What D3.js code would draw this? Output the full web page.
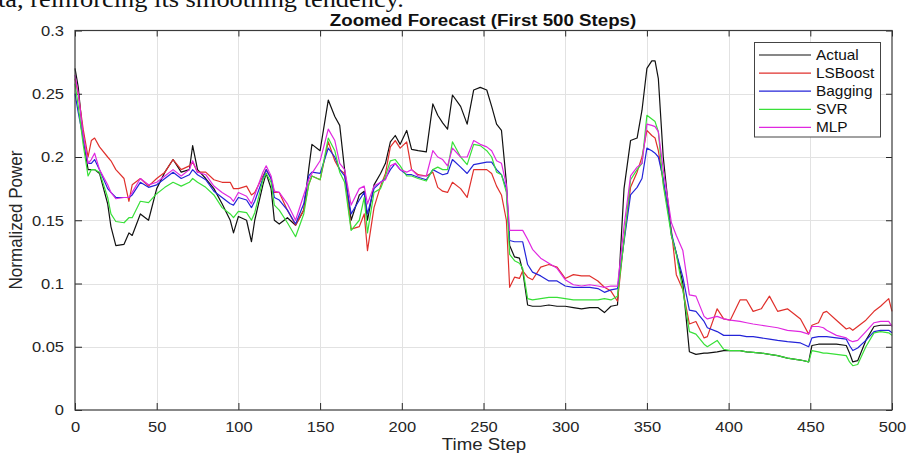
<!DOCTYPE html>
<html><head><meta charset="utf-8">
<script src="https://cdn.jsdelivr.net/npm/d3@7"></script>
<style>body{margin:0;background:#fff;} svg{display:block;}</style>
</head><body>
<svg id="c" width="910" height="454"></svg>
<script>
// ---- data ----
const timeSteps = [0,2,5,8,10,12,15,20,22,25,30,33,35,40,45,50,55,60,65,70,72,75,80,85,90,95,97,100,105,108,110,115,117,120,122,125,130,135,140,143,145,150,155,159,162,165,169,174,177,179,183,187,190,193,196,199,203,206,210,215,219,222,225,228,231,236,240,244,248,252,255,258,261,264,266,269,272,274,277,280,285,290,295,300,305,310,315,320,324,328,332,336,340,344,347,350,353,355,357,360,365,368,372,376,380,385,387,393,397,401,407,411,415,420,425,430,436,444,449,451,455,458,460,466,472,474,476,479,484,489,493,498,500];
const actual  = [.270,.255,.215,.190,.190,.190,.187,.163,.145,.130,.131,.140,.138,.155,.150,.175,.188,.198,.188,.190,.209,.190,.183,.175,.163,.150,.140,.153,.150,.133,.150,.178,.187,.175,.150,.147,.152,.146,.158,.190,.210,.205,.245,.232,.225,.190,.150,.170,.173,.150,.178,.187,.195,.212,.217,.210,.221,.206,.205,.204,.242,.233,.227,.222,.249,.240,.226,.253,.255,.253,.240,.226,.221,.180,.130,.121,.120,.110,.083,.082,.082,.083,.082,.082,.081,.080,.081,.081,.077,.082,.083,.175,.213,.215,.237,.270,.276,.276,.262,.200,.138,.124,.100,.046,.044,.045,.045,.046,.047,.047,.047,.046,.0455,.045,.044,.043,.041,.0395,.038,.051,.052,.052,.052,.052,.051,.045,.038,.039,.055,.066,.067,.067,.067];
const lsboost = [.262,.250,.222,.200,.213,.215,.208,.200,.197,.190,.183,.165,.178,.183,.177,.183,.188,.198,.190,.193,.196,.188,.188,.182,.180,.180,.175,.175,.177,.170,.172,.185,.190,.183,.172,.172,.158,.146,.158,.178,.185,.182,.212,.197,.190,.187,.143,.145,.155,.126,.160,.177,.187,.208,.213,.207,.212,.190,.186,.185,.188,.176,.173,.172,.180,.175,.168,.190,.190,.190,.187,.177,.170,.150,.097,.105,.104,.110,.105,.103,.113,.115,.113,.104,.107,.106,.106,.102,.097,.094,.086,.135,.176,.188,.200,.221,.217,.215,.205,.180,.142,.107,.095,.068,.070,.057,.058,.080,.072,.071,.087,.087,.078,.080,.090,.078,.080,.072,.060,.067,.069,.077,.078,.071,.064,.065,.063,.066,.071,.078,.082,.088,.078];
const bagging = [.250,.235,.215,.195,.195,.198,.190,.175,.172,.168,.168,.168,.170,.180,.176,.178,.183,.188,.183,.186,.190,.186,.182,.173,.168,.163,.162,.168,.166,.160,.165,.183,.190,.183,.168,.166,.158,.147,.163,.185,.188,.187,.207,.200,.190,.185,.155,.166,.172,.155,.175,.180,.183,.190,.195,.190,.186,.186,.184,.182,.190,.188,.186,.187,.198,.192,.187,.194,.195,.196,.196,.190,.186,.175,.134,.133,.133,.133,.115,.109,.106,.102,.102,.098,.097,.097,.097,.096,.093,.095,.096,.133,.170,.176,.183,.207,.205,.203,.200,.183,.140,.124,.105,.079,.078,.070,.065,.062,.059,.059,.059,.058,.058,.057,.056,.055,.054,.053,.050,.057,.058,.058,.058,.057,.056,.051,.047,.049,.055,.062,.063,.063,.061];
const svr     = [.258,.240,.210,.185,.190,.190,.188,.168,.155,.149,.148,.152,.152,.165,.164,.171,.176,.180,.177,.180,.183,.180,.176,.170,.160,.155,.152,.157,.156,.150,.156,.182,.187,.180,.162,.158,.148,.137,.155,.178,.185,.182,.215,.205,.188,.180,.142,.150,.168,.140,.172,.175,.185,.197,.198,.193,.185,.185,.183,.181,.190,.192,.190,.190,.212,.200,.194,.210,.209,.205,.200,.188,.186,.172,.123,.118,.116,.112,.088,.087,.088,.089,.089,.088,.087,.087,.087,.087,.088,.087,.090,.134,.182,.190,.195,.233,.230,.228,.220,.178,.138,.123,.095,.062,.060,.052,.050,.055,.048,.047,.047,.046,.0455,.045,.044,.043,.041,.0395,.038,.047,.046,.045,.045,.044,.043,.038,.035,.036,.050,.061,.062,.061,.059];
const mlp     = [.265,.250,.218,.195,.198,.203,.190,.178,.172,.167,.168,.168,.172,.183,.178,.180,.185,.190,.185,.190,.197,.188,.186,.177,.172,.168,.165,.172,.169,.163,.170,.188,.193,.185,.173,.172,.163,.150,.170,.182,.187,.197,.222,.213,.195,.190,.162,.175,.177,.163,.177,.180,.182,.193,.195,.190,.188,.190,.185,.185,.205,.200,.198,.193,.207,.200,.200,.213,.210,.208,.205,.197,.195,.178,.142,.142,.142,.142,.135,.127,.120,.116,.112,.103,.099,.098,.099,.098,.097,.098,.098,.145,.185,.192,.195,.226,.225,.224,.220,.190,.148,.138,.126,.091,.090,.074,.072,.074,.072,.071,.070,.069,.068,.067,.066,.065,.063,.062,.060,.066,.066,.065,.063,.059,.057,.055,.054,.055,.062,.069,.070,.070,.066];

const seriesNames  = ["Actual","LSBoost","Bagging","SVR","MLP"];
const seriesValues = [actual, lsboost, bagging, svr, mlp];
const seriesColors = ["#111111","#e0302c","#2424d8","#38e038","#e028e0"];
const xTicks = [0,50,100,150,200,250,300,350,400,450,500];
const yTicks = [0,0.05,0.1,0.15,0.2,0.25,0.3];
const yTickLabels = ["0","0.05","0.1","0.15","0.2","0.25","0.3"];
const titleText = "Zoomed Forecast (First 500 Steps)";
const xLabelText = "Time Step";
const yLabelText = "Normalized Power";
const topCaption = "ta, reinforcing its smoothing tendency.";

// ---- drawing ----
const SX = 1.1; // horizontal stretch of the source image
const svg = d3.select("#c");
const FONT = "'Liberation Sans', Arial, Helvetica, sans-serif";
const INK = "#262626";

const x = d3.scaleLinear().domain([0,500]).range([75, 892]);
const y = d3.scaleLinear().domain([0,0.3]).range([410, 30.5]);

function stext(px, py, txt, size, opts={}) {
  return svg.append("text")
    .attr("transform", `translate(${px},${py}) scale(${SX},1)`)
    .attr("font-family", opts.family || FONT)
    .attr("font-size", size)
    .attr("font-weight", opts.weight || "normal")
    .attr("text-anchor", opts.anchor || "start")
    .attr("fill", opts.fill || INK)
    .text(txt);
}

// caption fragment clipped at the top (as in the source image)
stext(-2, 7, topCaption, 24, {family:"'Liberation Serif','Times New Roman',serif", fill:"#111"});

// grid
const grid = svg.append("g").attr("stroke", "#e2e2e2").attr("stroke-width", 1);
xTicks.filter(t => t>0 && t<500).forEach(t => {
  grid.append("line").attr("x1", Math.round(x(t))+0.5).attr("x2", Math.round(x(t))+0.5)
    .attr("y1", y(0.3)).attr("y2", y(0));
});
yTicks.filter(t => t>0 && t<0.3).forEach(t => {
  grid.append("line").attr("y1", Math.round(y(t))+0.5).attr("y2", Math.round(y(t))+0.5)
    .attr("x1", x(0)).attr("x2", x(500));
});

// axes (inward ticks, box on)
const axB = svg.append("g").attr("transform", `translate(0,${y(0)})`)
  .call(d3.axisBottom(x).tickValues(xTicks).tickSizeInner(-7).tickSizeOuter(0).tickPadding(11));
const axL = svg.append("g").attr("transform", `translate(${x(0)},0)`)
  .call(d3.axisLeft(y).tickValues(yTicks).tickFormat((d,i)=>yTickLabels[i]).tickSizeInner(-7).tickSizeOuter(0).tickPadding(10));
const axT = svg.append("g").attr("transform", `translate(0,${y(0.3)})`)
  .call(d3.axisTop(x).tickValues(xTicks).tickFormat("").tickSizeInner(-6).tickSizeOuter(0));
const axR = svg.append("g").attr("transform", `translate(${x(500)},0)`)
  .call(d3.axisRight(y).tickValues(yTicks).tickFormat("").tickSizeInner(-6).tickSizeOuter(0));
[axB, axL, axT, axR].forEach(a => {
  a.select(".domain").remove();
  a.selectAll(".tick line").attr("stroke", INK).attr("stroke-width", 1);
  a.selectAll(".tick text").attr("font-family", FONT).attr("font-size", 15).attr("fill", INK);
});
axB.selectAll(".tick text").attr("transform", `scale(${SX},1)`);
axL.selectAll(".tick text").attr("transform", `scale(${SX},1)`);

// lines
const lineGen = d3.line().x((d,i) => x(timeSteps[i])).y(d => y(d));
const plot = svg.append("g");
seriesValues.forEach((vals, k) => {
  plot.append("path").datum(vals)
    .attr("d", lineGen)
    .attr("fill", "none")
    .attr("stroke", seriesColors[k])
    .attr("stroke-width", 1.2)
    .attr("stroke-linejoin", "round");
});

// box
svg.append("rect").attr("x", x(0)).attr("y", y(0.3))
  .attr("width", x(500)-x(0)).attr("height", y(0)-y(0.3))
  .attr("fill", "none").attr("stroke", "#3a3a3a").attr("stroke-width", 1.2);

// title and labels
stext(483, 26, titleText, 17, {weight:"bold", anchor:"middle", fill:"#111"});
stext(484, 450, xLabelText, 17, {anchor:"middle"});
svg.append("text")
  .attr("transform", `translate(22,220) scale(${SX},1) rotate(-90)`)
  .attr("font-family", FONT).attr("font-size", 17)
  .attr("text-anchor", "middle").attr("fill", INK)
  .text(yLabelText);

// legend
const lg = svg.append("g");
lg.append("rect").attr("x", 754.5).attr("y", 42.5).attr("width", 126).attr("height", 94.5)
  .attr("fill", "#fff").attr("stroke", "#444").attr("stroke-width", 1);
seriesNames.forEach((name, k) => {
  const cy = 55 + k*18.1;
  lg.append("line").attr("x1", 759).attr("x2", 811).attr("y1", cy).attr("y2", cy)
    .attr("stroke", seriesColors[k]).attr("stroke-width", 1.2);
  stext(816, cy+5, name, 14, {fill:"#111"});
});
</script>
</body></html>
